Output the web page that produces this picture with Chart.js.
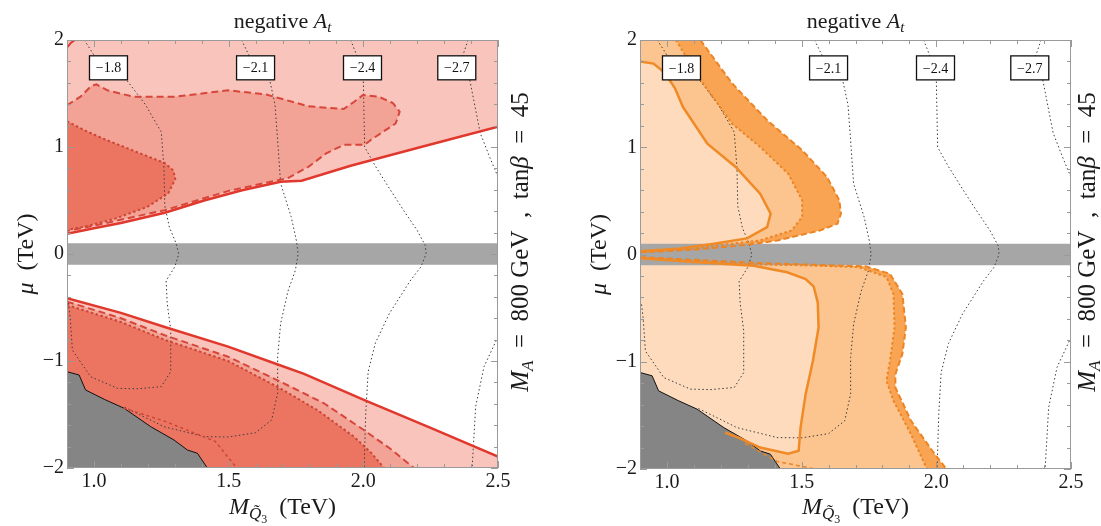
<!DOCTYPE html>
<html>
<head>
<meta charset="utf-8">
<script src="https://cdn.jsdelivr.net/npm/chart.js@4.4.0/dist/chart.umd.min.js"></script>
<style>
  html, body { margin: 0; padding: 0; background: #fff; }
  #wrap { position: relative; width: 1101px; height: 526px; overflow: hidden; }
  canvas { position: absolute; top: 0; }
  #cL { left: 0; }
  #cR { left: 550px; }
</style>
</head>
<body>
<div id="wrap">
  <canvas id="cL" width="550" height="526"></canvas>
  <canvas id="cR" width="551" height="526"></canvas>
</div>
<script>
// axes
const xRange = [0.9, 2.5];
const yRange = [-2, 2];
const xTicks = [1.0, 1.5, 2.0, 2.5];
const yTicks = [-2, -1, 0, 1, 2];
const xMinor = [1.1, 1.2, 1.3, 1.4, 1.6, 1.7, 1.8, 1.9, 2.1, 2.2, 2.3, 2.4];
const yMinor = [-1.8, -1.6, -1.4, -1.2, -0.8, -0.6, -0.4, -0.2, 0.2, 0.4, 0.6, 0.8, 1.2, 1.4, 1.6, 1.8];
const muBand = 0.1;

// texts
const titleText = ['negative ', 'A', 't'];
const xTitleText = ['M', 'Q\u0303', '3', '  (TeV)'];
const yTitleText = ['\u03bc', '  (TeV)'];
const sideText = ['M', 'A', '  =  800 GeV  ,  tan', '\u03b2', '  =  45'];

// A_t contour labels
const atLabels = ['\u22121.8', '\u22122.1', '\u22122.4', '\u22122.7'];
const atLabelX = [1.054, 1.600, 1.997, 2.347];
const atLabelY = 1.74;

// A_t contours (same in both panels)
const at18 = [[0.964, 2.0], [1.0, 1.86], [1.056, 1.74], [1.12, 1.63], [1.19, 1.40], [1.25, 1.14], [1.26, 0.80],
  [1.263, 0.45], [1.28, 0.25], [1.305, 0.10], [1.315, 0.0], [1.30, -0.12], [1.268, -0.25], [1.272, -0.46],
  [1.285, -0.71], [1.285, -1.10], [1.25, -1.24], [1.16, -1.26], [1.087, -1.255], [0.988, -1.147],
  [0.92, -0.90], [0.912, -0.60], [0.905, -0.45]];
const at21 = [[1.548, 2.0], [1.575, 1.86], [1.60, 1.74], [1.652, 1.63], [1.672, 1.40], [1.68, 1.13], [1.693, 0.66],
  [1.732, 0.35], [1.752, 0.12], [1.758, 0.0], [1.748, -0.15], [1.72, -0.35], [1.693, -0.65], [1.682, -0.96],
  [1.682, -1.30], [1.66, -1.55], [1.60, -1.67], [1.50, -1.71], [1.409, -1.707], [1.26, -1.614], [1.112, -1.43]];
const at24 = [[1.953, 2.0], [1.975, 1.86], [1.997, 1.74], [2.0, 1.63], [2.003, 1.25], [2.005, 1.0], [2.045, 0.82],
  [2.10, 0.60], [2.149, 0.41], [2.20, 0.22], [2.23, 0.08], [2.233, 0.0], [2.214, -0.12], [2.176, -0.243],
  [2.097, -0.555], [2.045, -0.83], [2.018, -1.10], [2.009, -1.49], [2.003, -2.0]];
const at27 = [[2.389, 2.0], [2.37, 1.86], [2.347, 1.74], [2.395, 1.63], [2.434, 1.13], [2.47, 0.90], [2.5, 0.72],
  null, [2.5, -0.773], [2.448, -1.053], [2.417, -1.427], [2.404, -2.0]];

// excluded (grey) corner
const lepEdge = [[0.9, -1.10], [0.945, -1.131], [0.969, -1.271], [1.04, -1.36], [1.112, -1.442], [1.211, -1.614],
  [1.297, -1.738], [1.347, -1.832], [1.384, -1.862], [1.421, -2.0]];

// left panel (red) boundaries
const redUpSolid = [[0.9, 0.19], [1.0, 0.24], [1.1, 0.29], [1.263, 0.385], [1.409, 0.50], [1.55, 0.595],
  [1.693, 0.676], [1.771, 0.685], [1.953, 0.825], [2.2, 0.99], [2.5, 1.19]];
const redCorner = [[0.9, 1.93], [0.915, 1.975], [0.93, 2.0]];
const redUpDashed = [[0.9, 1.39], [0.95, 1.47], [0.99, 1.57], [1.009, 1.585], [1.05, 1.53], [1.146, 1.47],
  [1.302, 1.47], [1.498, 1.53], [1.64, 1.49], [1.797, 1.38], [1.927, 1.355], [1.965, 1.42], [1.999, 1.486],
  [2.057, 1.47], [2.11, 1.41], [2.135, 1.33], [2.12, 1.22], [2.03, 1.07], [2.005, 1.02], [1.927, 1.02],
  [1.862, 0.94], [1.797, 0.816], [1.72, 0.71], [1.5, 0.59], [1.263, 0.41], [1.0, 0.265], [0.9, 0.215]];
const redUpDotted = [[0.9, 1.24], [0.97, 1.15], [1.042, 1.07], [1.172, 0.94], [1.263, 0.85], [1.295, 0.78],
  [1.302, 0.70], [1.276, 0.567], [1.198, 0.44], [1.081, 0.333], [0.977, 0.262], [0.9, 0.225]];
const redLowSolid = [[0.9, -0.414], [1.1, -0.55], [1.26, -0.68], [1.498, -0.866], [1.68, -1.03], [1.78, -1.12],
  [2.002, -1.364], [2.25, -1.625], [2.5, -1.894]];
const redLowDashed = [[0.9, -0.445], [1.1, -0.60], [1.26, -0.757], [1.498, -0.96], [1.68, -1.178],
  [1.854, -1.395], [2.002, -1.645], [2.1, -1.82], [2.188, -2.0]];
const redLowDotted = [[0.9, -0.476], [1.1, -0.635], [1.26, -0.80], [1.498, -1.0], [1.68, -1.24],
  [1.829, -1.458], [1.965, -1.707], [2.03, -1.86], [2.077, -2.0]];
const redLowInner = [[1.11, -1.44], [1.26, -1.56], [1.45, -1.75], [1.53, -2.0]];

// right panel (orange) boundaries
const orUpSolid = [[0.9, 1.80], [0.95, 1.78], [0.99, 1.70], [1.03, 1.55], [1.059, 1.377], [1.15, 1.034],
  [1.255, 0.816], [1.346, 0.567], [1.385, 0.38], [1.372, 0.255], [1.297, 0.15], [1.174, 0.10],
  [1.05, 0.055], [0.9, 0.03]];
const orUpDotted = [[1.033, 2.0], [1.124, 1.63], [1.242, 1.22], [1.346, 1.003], [1.45, 0.754], [1.502, 0.505],
  [1.502, 0.35], [1.463, 0.224], [1.346, 0.131], [1.19, 0.085], [1.05, 0.045], [0.9, 0.025]];
const orUpDashed = [[1.124, 2.0], [1.242, 1.595], [1.372, 1.252], [1.502, 0.972], [1.594, 0.723], [1.64, 0.505],
  [1.646, 0.38], [1.633, 0.287], [1.568, 0.224], [1.411, 0.131], [1.297, 0.09], [1.1, 0.045], [0.9, 0.02]];
const orLowSolid = [[0.9, -0.035], [1.1, -0.07], [1.322, -0.105], [1.446, -0.166], [1.515, -0.23], [1.545, -0.30],
  [1.56, -0.45], [1.563, -0.68], [1.542, -0.99], [1.515, -1.30], [1.496, -1.614], [1.489, -1.83],
  [1.45, -1.857], [1.346, -1.80], [1.268, -1.71], [1.216, -1.66]];
const orLowDotted = [[0.9, -0.03], [1.294, -0.09], [1.5, -0.10], [1.711, -0.118], [1.815, -0.21], [1.841, -0.368],
  [1.845, -0.68], [1.828, -0.99], [1.815, -1.178], [1.841, -1.364], [1.906, -1.676], [1.965, -2.0]];
const orLowDashed = [[0.9, -0.025], [1.346, -0.08], [1.6, -0.10], [1.737, -0.11], [1.828, -0.18], [1.874, -0.368],
  [1.887, -0.68], [1.874, -0.928], [1.848, -1.115], [1.848, -1.24], [1.906, -1.55], [1.985, -1.83], [2.037, -2.0]];
const orLowInner = [[1.29, -1.76], [1.41, -1.93], [1.55, -2.0]];

const SERIF = '"Liberation Serif", "DejaVu Serif", serif';

const col = {
  pinkLight: '#f9c4bc', pinkMid: '#f3a395', pinkDark: '#ec7562',
  red: '#e0382c', redDash: '#d6463a', redDot: '#cd4535',
  peachLight: '#fedbbd', peachMid: '#fcc590', peachDark: '#f9a452',
  orange: '#f08a26', orangeDash: '#ec8424',
  band: '#a6a6a6', lep: '#858585', at: '#3c3c3c', frame: '#9a9a9a',
};

function pts(arr) {
  return arr.map((p) => (p ? { x: p[0], y: p[1] } : { x: null, y: null }));
}

function area(points, color) {
  return {
    data: pts(points), showLine: true, fill: 'shape', backgroundColor: color,
    borderColor: 'rgba(0,0,0,0)', borderWidth: 0, pointRadius: 0, pointHoverRadius: 0,
  };
}

function stroke(points, color, width, dash) {
  return {
    data: pts(points), showLine: true, fill: false, borderColor: color, borderWidth: width,
    borderDash: dash || [], borderCapStyle: 'butt', pointRadius: 0, pointHoverRadius: 0,
  };
}

// bottom -> top; chart.js draws higher `order` first
function stack(list) {
  return list.map((ds, i) => Object.assign(ds, { order: list.length - i }));
}

const bandPoly = [[xRange[0], muBand], [xRange[1], muBand], [xRange[1], -muBand], [xRange[0], -muBand]];
const lepPoly = [...lepEdge, [xRange[0], yRange[0]]];
const atLines = () => [
  stroke(at18, col.at, 1, [1.5, 2.5]), stroke(at21, col.at, 1, [1.5, 2.5]),
  stroke(at24, col.at, 1, [1.5, 2.5]), stroke(at27, col.at, 1, [1.5, 2.5]),
];

const leftSets = stack([
  area([...redUpSolid, [xRange[1], yRange[1]], [xRange[0], yRange[1]]], col.pinkLight),
  area(redUpDashed, col.pinkMid),
  area(redUpDotted, col.pinkDark),
  area([...redLowSolid, [xRange[1], yRange[0]], [xRange[0], yRange[0]]], col.pinkLight),
  area([...redLowDashed, [xRange[0], yRange[0]]], col.pinkMid),
  area([...redLowDotted, [xRange[0], yRange[0]]], col.pinkDark),
  area(bandPoly, col.band),
  ...atLines(),
  area(lepPoly, col.lep),
  stroke(lepEdge, '#111', 1),
  stroke(redLowInner, col.redDot, 1.5, [3, 3]),
  stroke(redUpDotted, col.redDot, 2, [2.5, 2.5]),
  stroke(redUpDashed, col.redDash, 2, [7, 4]),
  stroke(redUpSolid, col.red, 2.5),
  stroke(redCorner, col.red, 2),
  stroke(redLowDotted, col.redDot, 2, [2.5, 2.5]),
  stroke(redLowDashed, col.redDash, 2, [7, 4]),
  stroke(redLowSolid, col.red, 2.5),
]);

const rightSets = stack([
  area([...orUpDashed, [xRange[0], yRange[1]]], col.peachDark),
  area([...orUpDotted, [xRange[0], yRange[1]]], col.peachMid),
  area(orUpSolid, col.peachLight),
  area([...orLowDashed, [xRange[0], yRange[0]]], col.peachDark),
  area([...orLowDotted, [xRange[0], yRange[0]]], col.peachMid),
  area([...orLowSolid, [1.0, yRange[0]], [xRange[0], yRange[0]]], col.peachLight),
  area(bandPoly, col.band),
  ...atLines(),
  area(lepPoly, col.lep),
  stroke(lepEdge, '#111', 1),
  stroke(orLowInner, col.orangeDash, 1.5, [4, 3]),
  stroke(orUpDashed, col.orangeDash, 2, [6, 3]),
  stroke(orUpDotted, col.orangeDash, 2, [2.5, 2.5]),
  stroke(orUpSolid, col.orange, 2.5),
  stroke(orLowDashed, col.orangeDash, 2, [6, 3]),
  stroke(orLowDotted, col.orangeDash, 2, [2.5, 2.5]),
  stroke(orLowSolid, col.orange, 2.5),
]);

function fontOf(p) {
  return (p.i ? 'italic ' : '') + p.s + 'px ' + SERIF;
}

function drawRich(ctx, parts, x, y) {
  let w = 0;
  parts.forEach((p) => { ctx.font = fontOf(p); w += ctx.measureText(p.t).width; });
  let cx = x - w / 2;
  parts.forEach((p) => {
    ctx.font = fontOf(p);
    ctx.fillText(p.t, cx, y + (p.dy || 0));
    cx += ctx.measureText(p.t).width;
  });
}

function makeDecor(sideOffset) {
  return {
    id: 'decor',
    afterDraw(chart) {
      const { ctx, chartArea: a, scales: { x, y } } = chart;
      ctx.save();

      // frame + inward ticks on all sides
      ctx.strokeStyle = col.frame;
      ctx.lineWidth = 1;
      ctx.strokeRect(a.left + 0.5, a.top + 0.5, a.right - a.left - 1, a.bottom - a.top - 1);
      ctx.beginPath();
      const xt = [...xTicks.map((v) => [v, 7]), ...xMinor.map((v) => [v, 4])];
      xt.forEach(([v, len]) => {
        const px = Math.round(x.getPixelForValue(v)) + 0.5;
        ctx.moveTo(px, a.bottom); ctx.lineTo(px, a.bottom - len);
        ctx.moveTo(px, a.top); ctx.lineTo(px, a.top + len);
      });
      const yt = [...yTicks.map((v) => [v, 7]), ...yMinor.map((v) => [v, 4])];
      yt.forEach(([v, len]) => {
        const py = Math.round(y.getPixelForValue(v)) + 0.5;
        ctx.moveTo(a.left, py); ctx.lineTo(a.left + len, py);
        ctx.moveTo(a.right, py); ctx.lineTo(a.right - len, py);
      });
      ctx.stroke();

      // contour labels
      ctx.textAlign = 'center';
      ctx.textBaseline = 'middle';
      ctx.font = '14px ' + SERIF;
      atLabels.forEach((t, i) => {
        const px = x.getPixelForValue(atLabelX[i]);
        const py = y.getPixelForValue(atLabelY);
        ctx.fillStyle = '#fff';
        ctx.fillRect(px - 19, py - 12, 38, 24);
        ctx.strokeStyle = '#111';
        ctx.lineWidth = 1.3;
        ctx.strokeRect(px - 19, py - 12, 38, 24);
        ctx.fillStyle = '#111';
        ctx.fillText(t, px, py + 1);
      });

      // titles
      ctx.fillStyle = '#1a1a1a';
      ctx.textAlign = 'left';
      ctx.textBaseline = 'alphabetic';
      const midX = (a.left + a.right) / 2;
      const midY = (a.top + a.bottom) / 2;
      drawRich(ctx, [
        { t: titleText[0], s: 22 }, { t: titleText[1], s: 22, i: true }, { t: titleText[2], s: 15, i: true, dy: 4 },
      ], midX, 28);
      drawRich(ctx, [
        { t: xTitleText[0], s: 24, i: true }, { t: xTitleText[1], s: 17, i: true, dy: 5 },
        { t: xTitleText[2], s: 12, dy: 9 }, { t: xTitleText[3], s: 24 },
      ], midX, 514);

      ctx.save();
      ctx.translate(a.left - 42, midY);
      ctx.rotate(-Math.PI / 2);
      drawRich(ctx, [{ t: yTitleText[0], s: 24, i: true }, { t: yTitleText[1], s: 24 }], 0, 8);
      ctx.restore();

      ctx.save();
      ctx.translate(a.right + sideOffset, 242);
      ctx.rotate(-Math.PI / 2);
      drawRich(ctx, [
        { t: sideText[0], s: 25, i: true }, { t: sideText[1], s: 17, i: true, dy: 5 },
        { t: sideText[2], s: 25 }, { t: sideText[3], s: 25, i: true }, { t: sideText[4], s: 25 },
      ], 0, 8);
      ctx.restore();

      ctx.restore();
    },
  };
}

function makeChart(id, datasets, box) {
  const ctx = document.getElementById(id).getContext('2d');
  return new Chart(ctx, {
    type: 'scatter',
    data: { datasets },
    options: {
      responsive: false,
      animation: false,
      events: [],
      layout: { padding: { left: 0, top: box.top, right: box.right, bottom: 0 } },
      plugins: { legend: { display: false }, tooltip: { enabled: false } },
      scales: {
        x: {
          type: 'linear', position: 'bottom', min: xRange[0], max: xRange[1],
          afterBuildTicks: (s) => { s.ticks = xTicks.map((v) => ({ value: v })); },
          afterFit: (s) => { s.height = box.xAxisH; },
          grid: { display: false, drawTicks: false },
          border: { display: false },
          ticks: {
            font: { family: SERIF, size: 20 }, color: '#1a1a1a', padding: 2,
            maxRotation: 0, autoSkip: false, callback: (v) => Number(v).toFixed(1),
          },
        },
        y: {
          type: 'linear', position: 'left', min: yRange[0], max: yRange[1],
          afterBuildTicks: (s) => { s.ticks = yTicks.map((v) => ({ value: v })); },
          afterFit: (s) => { s.width = box.yAxisW; },
          grid: { display: false, drawTicks: false },
          border: { display: false },
          ticks: {
            font: { family: SERIF, size: 20 }, color: '#1a1a1a', padding: 3,
            autoSkip: false, callback: (v) => (v < 0 ? '\u2212' + Math.abs(v) : String(v)),
          },
        },
      },
    },
    plugins: [makeDecor(box.side)],
  });
}

makeChart('cL', leftSets, { top: 40, right: 52, xAxisH: 58, yAxisW: 67, side: 22 });
makeChart('cR', rightSets, { top: 40, right: 30, xAxisH: 57, yAxisW: 90, side: 16 });
</script>
</body>
</html>
